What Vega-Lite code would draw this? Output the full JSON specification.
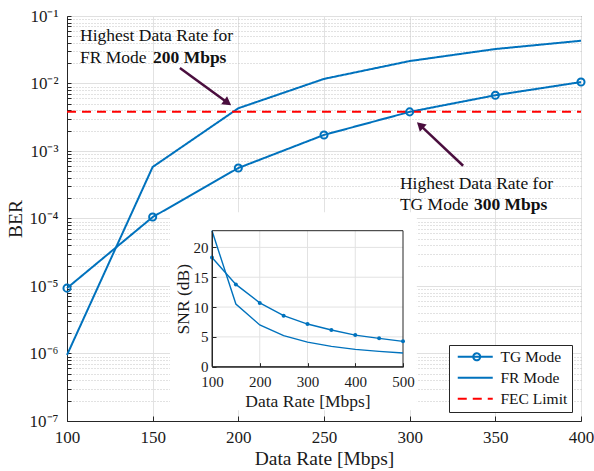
{
  "$schema": "https://vega.github.io/schema/vega-lite/v6.json",
  "width": 514,
  "height": 405,
  "autosize": "none",
  "padding": {"left": 67, "top": 16, "right": 13, "bottom": 50},
  "background": "white",
  "datasets": {
    "ber": [
      {"series": "TG Mode", "rate": 100, "ber": 9.3e-6},
      {"series": "TG Mode", "rate": 150, "ber": 1.05e-4},
      {"series": "TG Mode", "rate": 200, "ber": 5.6e-4},
      {"series": "TG Mode", "rate": 250, "ber": 1.73e-3},
      {"series": "TG Mode", "rate": 300, "ber": 3.8e-3},
      {"series": "TG Mode", "rate": 350, "ber": 6.7e-3},
      {"series": "TG Mode", "rate": 400, "ber": 1.05e-2},
      {"series": "FR Mode", "rate": 100, "ber": 9.5e-7},
      {"series": "FR Mode", "rate": 150, "ber": 5.8e-4},
      {"series": "FR Mode", "rate": 200, "ber": 4.3e-3},
      {"series": "FR Mode", "rate": 250, "ber": 1.17e-2},
      {"series": "FR Mode", "rate": 300, "ber": 2.15e-2},
      {"series": "FR Mode", "rate": 350, "ber": 3.24e-2},
      {"series": "FR Mode", "rate": 400, "ber": 4.3e-2},
      {"series": "FEC Limit", "rate": 100, "ber": 3.8e-3},
      {"series": "FEC Limit", "rate": 400, "ber": 3.8e-3}
    ],
    "snr": [
      {"series": "TG Mode", "rate": 100, "snr": 18.3},
      {"series": "TG Mode", "rate": 150, "snr": 13.8},
      {"series": "TG Mode", "rate": 200, "snr": 10.7},
      {"series": "TG Mode", "rate": 250, "snr": 8.55},
      {"series": "TG Mode", "rate": 300, "snr": 7.15},
      {"series": "TG Mode", "rate": 350, "snr": 6.15},
      {"series": "TG Mode", "rate": 400, "snr": 5.3},
      {"series": "TG Mode", "rate": 450, "snr": 4.75},
      {"series": "TG Mode", "rate": 500, "snr": 4.25},
      {"series": "FR Mode", "rate": 100, "snr": 22.8},
      {"series": "FR Mode", "rate": 150, "snr": 10.5},
      {"series": "FR Mode", "rate": 200, "snr": 7.0},
      {"series": "FR Mode", "rate": 250, "snr": 5.2},
      {"series": "FR Mode", "rate": 300, "snr": 4.13},
      {"series": "FR Mode", "rate": 350, "snr": 3.4},
      {"series": "FR Mode", "rate": 400, "snr": 2.9},
      {"series": "FR Mode", "rate": 450, "snr": 2.57},
      {"series": "FR Mode", "rate": 500, "snr": 2.3}
    ],
    "notes": [
      {"t": "Highest Data Rate for", "rate": 107.6, "ber": 0.0506},
      {"t": "FR Mode", "rate": 107.6, "ber": 0.0239},
      {"t": "Highest Data Rate for", "rate": 294.3, "ber": 3.24e-4},
      {"t": "TG Mode", "rate": 294.3, "ber": 1.58e-4}
    ],
    "notesBold": [
      {"t": "200 Mbps", "rate": 150.2, "ber": 0.0239},
      {"t": "300 Mbps", "rate": 337.5, "ber": 1.58e-4}
    ],
    "arrows": [
      {"id": "FR", "rate": 165.9, "ber": 0.017, "rate2": 193.75, "ber2": 0.00518},
      {"id": "TG", "rate": 331.2, "ber": 6.05e-4, "rate2": 306.1, "ber2": 0.00242}
    ],
    "gridX": [{"v": 200}, {"v": 300}, {"v": 400}],
    "gridY": [{"v": 5}, {"v": 10}, {"v": 15}, {"v": 20}]
  },
  "layer": [
    {
      "layer": [
        {
          "data": {"name": "ber"},
          "mark": {"type": "line", "strokeWidth": 2},
          "encoding": {
            "x": {
              "field": "rate", "type": "quantitative", "title": "Data Rate [Mbps]",
              "scale": {"domain": [100, 400], "nice": false, "zero": false},
              "axis": {
                "values": [100, 150, 200, 250, 300, 350, 400],
                "titleFontSize": 19.5, "labelFontSize": 17,
                "tickSize": -5, "labelPadding": 13.5, "titlePadding": 4,
                "grid": true, "gridColor": "#e2e2e2"
              }
            },
            "y": {
              "field": "ber", "type": "quantitative", "title": "BER",
              "scale": {"type": "log", "domain": [1e-7, 0.1], "nice": false},
              "axis": {
                "values": [1e-7, 2e-7, 3e-7, 4e-7, 5e-7, 6e-7, 7e-7, 8e-7, 9e-7,
                           1e-6, 2e-6, 3e-6, 4e-6, 5e-6, 6e-6, 7e-6, 8e-6, 9e-6,
                           1e-5, 2e-5, 3e-5, 4e-5, 5e-5, 6e-5, 7e-5, 8e-5, 9e-5,
                           1e-4, 2e-4, 3e-4, 4e-4, 5e-4, 6e-4, 7e-4, 8e-4, 9e-4,
                           1e-3, 2e-3, 3e-3, 4e-3, 5e-3, 6e-3, 7e-3, 8e-3, 9e-3,
                           1e-2, 2e-2, 3e-2, 4e-2, 5e-2, 6e-2, 7e-2, 8e-2, 9e-2, 1e-1],
                "labelExpr": "abs(log(datum.value)/LN10 - round(log(datum.value)/LN10)) < 0.001 ? ['10⁻⁷','10⁻⁶','10⁻⁵','10⁻⁴','10⁻³','10⁻²','10⁻¹'][round(log(datum.value)/LN10)+7] : ''",
                "titleFontSize": 19.5, "labelFontSize": 17,
                "tickSize": -4, "labelPadding": 13, "titlePadding": 4,
                "grid": true,
                "gridColor": {"condition": {"test": "abs(log(datum.value)/LN10 - round(log(datum.value)/LN10)) < 0.001", "value": "#e0e0e0"}, "value": "#c4c4c4"},
                "gridDash": {"condition": {"test": "abs(log(datum.value)/LN10 - round(log(datum.value)/LN10)) < 0.001", "value": []}, "value": [1, 2]}
              }
            },
            "color": {
              "field": "series", "type": "nominal",
              "scale": {"domain": ["TG Mode", "FR Mode", "FEC Limit"], "range": ["#0072BD", "#0072BD", "#FF0000"]},
              "legend": {
                "title": null, "orient": "bottom-right", "offset": 9,
                "fillColor": "white", "strokeColor": "#262626", "padding": 4,
                "labelFont": "Liberation Serif", "labelFontSize": 15.5, "labelColor": "#111111",
                "symbolSize": 100, "symbolStrokeWidth": 2, "labelOffset": 32, "rowPadding": 4,
                "labelLimit": 200,
                "encode": {
                  "symbols": {
                    "update": {
                      "shape": {"signal": "datum.value === 'TG Mode' ? 'M-0.6,0L6.4,0M3.9,0A0.7,0.7,0,1,1,2.5,0A0.7,0.7,0,1,1,3.9,0' : 'M-0.6,0L6.4,0'"},
                      "strokeDash": {"signal": "datum.value === 'FEC Limit' ? [13, 9] : [1, 0]"}
                    }
                  }
                }
              }
            },
            "strokeDash": {
              "field": "series", "type": "nominal",
              "scale": {"domain": ["TG Mode", "FR Mode", "FEC Limit"], "range": [[1, 0], [1, 0], [9, 6]]},
              "legend": null
            },
            "strokeWidth": {"condition": {"test": "datum.series === 'FEC Limit'", "value": 2.5}, "value": 2}
          }
        },
        {
          "data": {"name": "ber"},
          "transform": [{"filter": "datum.series === 'TG Mode'"}],
          "mark": {"type": "point", "shape": "circle", "filled": false, "size": 50, "strokeWidth": 2, "color": "#0072BD", "opacity": 1},
          "encoding": {
            "x": {"field": "rate", "type": "quantitative", "title": "Data Rate [Mbps]"},
            "y": {"field": "ber", "type": "quantitative", "title": "BER"}
          }
        },
        {
          "data": {"name": "arrows"},
          "mark": {"type": "rule", "strokeWidth": 2.5, "color": "#4A0E3E"},
          "encoding": {
            "x": {"field": "rate", "type": "quantitative", "title": "Data Rate [Mbps]"},
            "y": {"field": "ber", "type": "quantitative", "title": "BER"},
            "x2": {"field": "rate2"},
            "y2": {"field": "ber2"}
          }
        },
        {
          "data": {"name": "arrows"},
          "transform": [{"filter": "datum.id === 'FR'"}],
          "mark": {"type": "point", "shape": "triangle-up", "filled": true, "size": 100, "angle": 126, "color": "#4A0E3E", "opacity": 1},
          "encoding": {
            "x": {"field": "rate2", "type": "quantitative", "title": "Data Rate [Mbps]"},
            "y": {"field": "ber2", "type": "quantitative", "title": "BER"}
          }
        },
        {
          "data": {"name": "arrows"},
          "transform": [{"filter": "datum.id === 'TG'"}],
          "mark": {"type": "point", "shape": "triangle-up", "filled": true, "size": 100, "angle": 313, "color": "#4A0E3E", "opacity": 1},
          "encoding": {
            "x": {"field": "rate2", "type": "quantitative", "title": "Data Rate [Mbps]"},
            "y": {"field": "ber2", "type": "quantitative", "title": "BER"}
          }
        },
        {
          "data": {"name": "notes"},
          "mark": {"type": "text", "align": "left", "baseline": "middle", "font": "Liberation Serif", "fontSize": 17.5, "color": "#111111"},
          "encoding": {
            "x": {"field": "rate", "type": "quantitative", "title": "Data Rate [Mbps]"},
            "y": {"field": "ber", "type": "quantitative", "title": "BER"},
            "text": {"field": "t"}
          }
        },
        {
          "data": {"name": "notesBold"},
          "mark": {"type": "text", "align": "left", "baseline": "middle", "font": "Liberation Serif", "fontSize": 17.5, "fontWeight": "bold", "color": "#111111"},
          "encoding": {
            "x": {"field": "rate", "type": "quantitative", "title": "Data Rate [Mbps]"},
            "y": {"field": "ber", "type": "quantitative", "title": "BER"},
            "text": {"field": "t"}
          }
        }
      ]
    },
    {
      "layer": [
        {
          "data": {"values": [{}]},
          "mark": {"type": "rect", "fill": "white", "stroke": null},
          "encoding": {
            "x": {"datum": 12, "type": "quantitative", "title": "Data Rate [Mbps]",
              "scale": {"domain": [100, 500], "range": [145, 336], "nice": false, "zero": false},
              "axis": {
                "orient": "bottom", "offset": -54.3,
                "values": [100, 200, 300, 400, 500],
                "titleFontSize": 17.5, "labelFontSize": 15,
                "tickSize": -4, "labelPadding": 12, "titlePadding": 3,
                "grid": false, "zindex": 1
              }
            },
            "x2": {"datum": 529},
            "y": {"datum": -7.3, "type": "quantitative", "title": "SNR (dB)",
              "scale": {"domain": [0, 22.8], "range": [350.7, 214.7], "nice": false, "zero": false},
              "axis": {
                "orient": "left", "offset": -145,
                "values": [0, 5, 10, 15, 20],
                "titleFontSize": 17.5, "labelFontSize": 15,
                "tickSize": -4, "labelPadding": 8, "titlePadding": 1,
                "grid": false, "zindex": 1
              }
            },
            "y2": {"datum": 25.9}
          }
        },
        {
          "data": {"name": "gridX"},
          "mark": {"type": "rule", "color": "#e2e2e2", "strokeWidth": 1},
          "encoding": {
            "x": {"field": "v", "type": "quantitative", "title": "Data Rate [Mbps]"},
            "y": {"datum": 0, "type": "quantitative", "title": "SNR (dB)"},
            "y2": {"datum": 22.8}
          }
        },
        {
          "data": {"name": "gridY"},
          "mark": {"type": "rule", "color": "#e2e2e2", "strokeWidth": 1},
          "encoding": {
            "y": {"field": "v", "type": "quantitative", "title": "SNR (dB)"},
            "x": {"datum": 100, "type": "quantitative", "title": "Data Rate [Mbps]"},
            "x2": {"datum": 500}
          }
        },
        {
          "data": {"values": [{}]},
          "mark": {"type": "rect", "fill": null, "fillOpacity": 0, "stroke": "#262626", "strokeWidth": 1},
          "encoding": {
            "x": {"datum": 100, "type": "quantitative", "title": "Data Rate [Mbps]"},
            "x2": {"datum": 500},
            "y": {"datum": 0, "type": "quantitative", "title": "SNR (dB)"},
            "y2": {"datum": 22.8}
          }
        },
        {
          "data": {"name": "snr"},
          "mark": {"type": "line", "strokeWidth": 1.4, "color": "#0072BD"},
          "encoding": {
            "x": {"field": "rate", "type": "quantitative", "title": "Data Rate [Mbps]"},
            "y": {"field": "snr", "type": "quantitative", "title": "SNR (dB)"},
            "detail": {"field": "series"}
          }
        },
        {
          "data": {"name": "snr"},
          "transform": [{"filter": "datum.series === 'TG Mode'"}],
          "mark": {"type": "point", "shape": "circle", "filled": true, "size": 16, "color": "#0072BD", "opacity": 1},
          "encoding": {
            "x": {"field": "rate", "type": "quantitative", "title": "Data Rate [Mbps]"},
            "y": {"field": "snr", "type": "quantitative", "title": "SNR (dB)"}
          }
        }
      ]
    }
  ],
  "resolve": {"scale": {"x": "independent", "y": "independent"}},
  "config": {
    "view": {"stroke": "#262626", "strokeWidth": 1},
    "font": "Liberation Serif",
    "axis": {
      "labelFont": "Liberation Serif", "titleFont": "Liberation Serif",
      "titleFontWeight": "normal", "labelColor": "#1a1a1a", "titleColor": "#1a1a1a",
      "domainColor": "#262626", "tickColor": "#262626",
      "labelFlush": false, "labelOverlap": false
    }
  }
}
